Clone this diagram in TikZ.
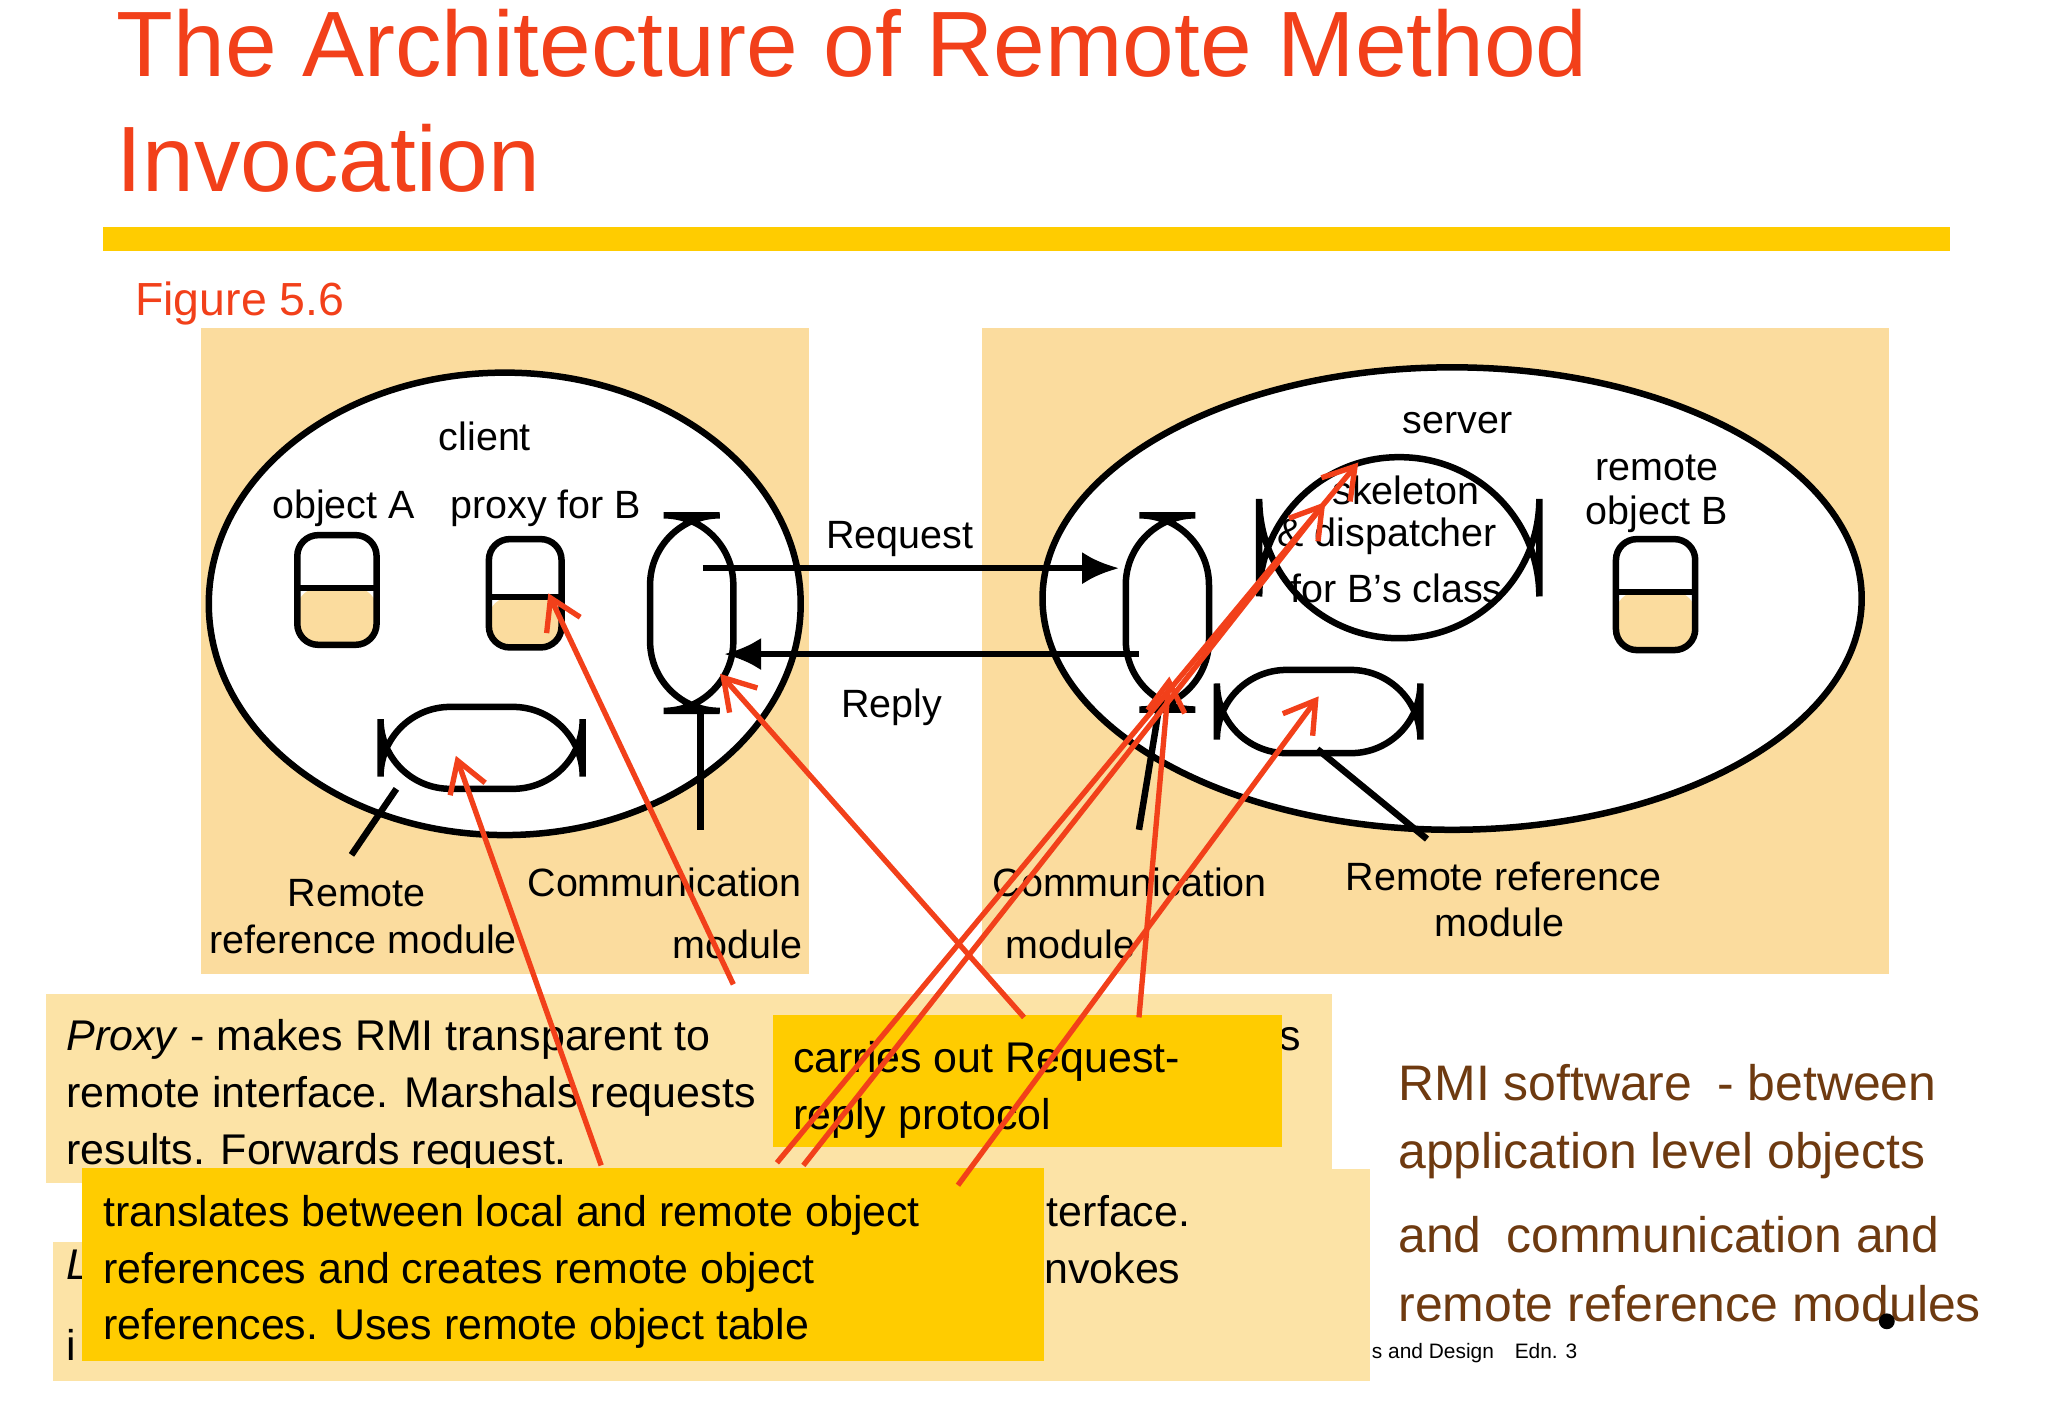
\documentclass[tikz,border=0pt]{standalone}
\usepackage{fontspec}
\setmainfont{Liberation Sans}
\usetikzlibrary{arrows.meta}
\definecolor{ttl}{HTML}{F2401A}
\definecolor{bar}{HTML}{FFCC00}
\definecolor{panel}{HTML}{FBDC9E}
\definecolor{lbox}{HTML}{FCE3A6}
\definecolor{brn}{HTML}{6E3A10}
\begin{document}
\begin{tikzpicture}[x=0.02cm,y=-0.02cm,
  blk/.style={line width=2.8pt,black},
  obj/.style={blk,rounded corners=9pt},
  pill/.style={blk,rounded corners=17pt},
  lbl/.style={font=\fontsize{17}{20}\selectfont,inner sep=0pt},
  ra/.style={line width=2.3pt,ttl,-{Straight Barb[length=13pt,width=16pt,line width=2.3pt]}},
  bt/.style={font=\fontsize{18.5}{22}\selectfont,anchor=base west,inner sep=0pt},
  rt/.style={font=\fontsize{21.5}{25}\selectfont,anchor=base west,inner sep=0pt,text=brn}]
\useasboundingbox (0,0) rectangle (1550,1073);
\fill[white] (0,0) rectangle (1550,1073);
% title
\node[font=\fontsize{40}{44}\selectfont,text=ttl,anchor=base west,inner sep=0pt] (t1) at (88,58) {The Architecture of Remote Method};
\node[font=\fontsize{40}{44}\selectfont,text=ttl,anchor=base west,inner sep=0pt] (t2) at (88,145) {Invocation};
\fill[bar] (78,172) rectangle (1476,190);
\node[font=\fontsize{20}{24}\selectfont,text=ttl,anchor=base west,inner sep=0pt] (fig) at (102,239) {Figure 5.6};
% panels
\fill[panel] (152,248) rectangle (612,737);
\fill[panel] (743,248) rectangle (1430,737);
% client
\draw[blk,fill=white] (382,457) ellipse [x radius=224,y radius=175];
\node[lbl] (cl) at (367,330) {client};
\node[lbl] (oa) at (260,385) {object A};
\node[lbl] (pb) at (413,385) {proxy for B};
\fill[panel,rounded corners=9pt] (225,445) rectangle (285,488);
\draw[obj] (225,405) rectangle (285,488);
\draw[blk] (225,445) -- (285,445);
\fill[panel,rounded corners=9pt] (370,452) rectangle (425,490);
\draw[obj] (370,408) rectangle (425,490);
\draw[blk] (370,452) -- (425,452);
\draw[blk,rounded corners=30pt,fill=white] (492,390) rectangle (555,538);
\draw[pill,rounded corners=30pt] (288,535) rectangle (441,597);
\draw[blk] (300,597) -- (266,647);
\draw[blk] (530,538) -- (530,628);
\node[lbl] (rr1) at (270,676) {Remote};
\node[lbl] (rr2) at (275,711) {reference module};
\node[lbl] (cm1) at (503,668) {Communication};
\node[lbl] (cm2) at (558,715) {module};
% server
\draw[blk,fill=white] (1099,453) ellipse [x radius=310,y radius=175];
\node[lbl] (sv) at (1103,320) {server};
\draw[blk,rounded corners=60pt] (953,346) rectangle (1165,483);
\node[lbl] (sk1) at (1064,371) {skeleton};
\node[lbl] (sk2) at (1050,406) {\& dispatcher};
\node[lbl] (sk3) at (1057,445) {for B’s class};
\node[lbl] (ro1) at (1254,354) {remote};
\node[lbl] (ro2) at (1254,389) {object B};
\fill[panel,rounded corners=9pt] (1223,448) rectangle (1283,492);
\draw[obj] (1223,408) rectangle (1283,492);
\draw[blk] (1223,448) -- (1283,448);
\draw[blk,rounded corners=30pt] (852,390) rectangle (915,537);
\draw[blk,rounded corners=30pt] (921,507) rectangle (1075,570);
\draw[blk] (877,537) -- (862,628);
\draw[blk] (997,567) -- (1080,635);
\node[lbl] (sc1) at (855,668) {Communication};
\node[lbl] (sc2) at (810,715) {module};
\node[lbl] (sr1) at (1138,663) {Remote reference};
\node[lbl] (sr2) at (1135,698) {module};
% request/reply
\coordinate (rq0) at (532,430); \coordinate (rq1) at (847,430);
\coordinate (rp0) at (862,495); \coordinate (rp1) at (548,495);
\draw[blk,-{Latex[length=16pt,width=14pt]}] (rq0) -- (rq1);
\draw[blk,-{Latex[length=16pt,width=14pt]}] (rp0) -- (rp1);
\node[lbl] (req) at (681,408) {Request};
\node[lbl] (rep) at (675,535) {Reply};
% bottom boxes
\fill[lbox] (35,752) rectangle (1008,895);
\node[bt] (p1) at (50,795) {\textit{Proxy} - makes RMI transparent to};
\node[bt] (p1b) at (968,795) {s};
\node[bt] (p2) at (50,838) {remote interface. Marshals requests};
\node[bt] (p3) at (50,881) {results. Forwards request.};
\fill[lbox] (40,940) rectangle (1015,1045);
\node[bt] (l1) at (50,968) {\textit{L}};
\node[bt] (l2) at (50,1030) {i};
\fill[lbox] (595,885) rectangle (1037,1045);
\node[bt] (s1) at (792,928) {terface.};
\node[bt] (s2) at (790,971) {nvokes};
\node[font=\fontsize{9}{11}\selectfont,anchor=base west,inner sep=0pt] (ft) at (1038,1028) {s and Design\quad Edn. 3};
\fill[bar] (585,768) rectangle (970,868);
\node[bt] (c1) at (600,812) {carries out Request-};
\node[bt] (c2) at (600,855) {reply protocol};
\fill[bar] (62,884) rectangle (790,1030);
\node[bt] (tr1) at (78,928) {translates between local and remote object};
\node[bt] (tr2) at (78,971) {references and creates remote object};
\node[bt] (tr3) at (78,1014) {references. Uses remote object table};
% red arrows
\coordinate (a0) at (555,745); \coordinate (a1) at (415,449);
\coordinate (b0) at (455,882); \coordinate (b1) at (345,572);
\coordinate (c0) at (775,770); \coordinate (c1) at (545,510);
\coordinate (d0) at (862,770); \coordinate (d1) at (885,512);
\coordinate (e0) at (588,880); \coordinate (e1) at (1028,350);
\coordinate (f0) at (608,882); \coordinate (f1) at (1003,380);
\coordinate (g0) at (725,897); \coordinate (g1) at (998,527);
\foreach \s/\t in {a0/a1,b0/b1,c0/c1,d0/d1,e0/e1,f0/f1,g0/g1} \draw[ra] (\s) -- (\t);
% right text
\node[rt] (r1) at (1058,833) {RMI software\enspace- between};
\node[rt] (r2) at (1058,884) {application level objects};
\node[rt] (r3) at (1058,948) {and\enspace communication and};
\node[rt] (r4) at (1058,1000) {remote reference modules};
\fill (1428,1000) circle (6);
\end{tikzpicture}
\end{document}
